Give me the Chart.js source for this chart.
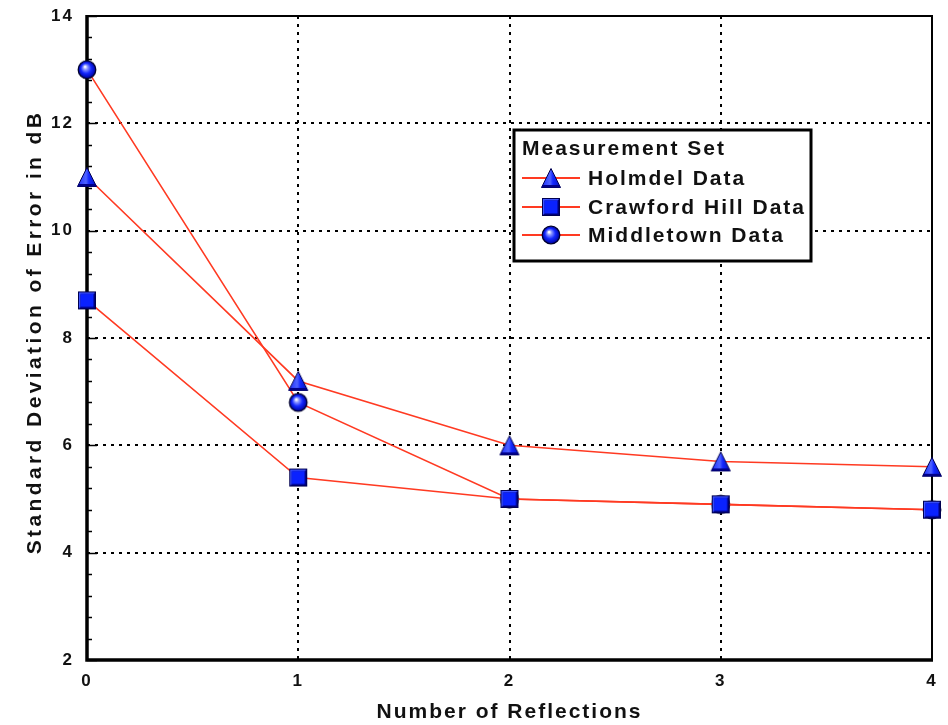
<!DOCTYPE html>
<html>
<head>
<meta charset="utf-8">
<script src="https://cdn.jsdelivr.net/npm/chart.js@4.4.1/dist/chart.umd.min.js"></script>
<style>
  html, body { margin: 0; padding: 0; background: #fff; }
</style>
</head>
<body>
<canvas id="chart" width="948" height="725"></canvas>
<script>
// data
const reflections = [0, 1, 2, 3, 4];
const holmdel = [11.0, 7.2, 6.0, 5.7, 5.6];
const crawfordHill = [8.7, 5.4, 5.0, 4.9, 4.8];
const middletown = [13.0, 6.8, 5.0, 4.9, 4.8];
const seriesNames = ["Holmdel Data", "Crawford Hill Data", "Middletown Data"];
const legendTitle = "Measurement Set";
const xTitle = "Number of Reflections";
const yTitle = "Standard Deviation of Error in dB";

const FONT = "'Liberation Sans', Arial, sans-serif";
const RED = "#ff3a22";

// little shaded blue markers (canvas images used as pointStyle)
function makeMarker(shape) {
  const s = 22;
  const c = document.createElement("canvas");
  c.width = s; c.height = s;
  const g = c.getContext("2d");
  const cx = s / 2, cy = s / 2;
  if (shape === "circle") {
    const grad = g.createRadialGradient(cx - 2, cy - 3, 0.5, cx, cy, 9);
    grad.addColorStop(0, "#ffffff");
    grad.addColorStop(0.22, "#8a95ff");
    grad.addColorStop(0.55, "#1428ff");
    grad.addColorStop(0.9, "#0008b0");
    grad.addColorStop(1, "#00005a");
    g.beginPath();
    g.arc(cx, cy, 8.8, 0, Math.PI * 2);
    g.fillStyle = grad;
    g.fill();
    g.lineWidth = 1.3;
    g.strokeStyle = "#000030";
    g.stroke();
  } else if (shape === "rect") {
    const x0 = 2, y0 = 2, x1 = 20, y1 = 20, b = 2.5;
    g.fillStyle = "#00007a";
    g.fillRect(x0, y0, x1 - x0, y1 - y0);
    // light top-left bevel
    g.beginPath();
    g.moveTo(x0, y1); g.lineTo(x0, y0); g.lineTo(x1, y0);
    g.lineTo(x1 - b, y0 + b); g.lineTo(x0 + b, y0 + b); g.lineTo(x0 + b, y1 - b);
    g.closePath();
    g.fillStyle = "#3f55ff";
    g.fill();
    g.fillStyle = "#0a22ff";
    g.fillRect(x0 + b, y0 + b, x1 - x0 - 2 * b, y1 - y0 - 2 * b);
    g.lineWidth = 1;
    g.strokeStyle = "#000050";
    g.strokeRect(x0 + 0.5, y0 + 0.5, x1 - x0 - 1, y1 - y0 - 1);
  } else {
    const top = 1.5, bot = 20.5, half = 9.5;
    const grad = g.createLinearGradient(cx - half, 0, cx + half, 0);
    grad.addColorStop(0, "#1a2cff");
    grad.addColorStop(0.45, "#4f63ff");
    grad.addColorStop(0.6, "#1428ff");
    grad.addColorStop(1, "#0010c0");
    g.beginPath();
    g.moveTo(cx, top); g.lineTo(cx + half, bot); g.lineTo(cx - half, bot);
    g.closePath();
    g.fillStyle = grad;
    g.fill();
    g.lineWidth = 1;
    g.strokeStyle = "#000050";
    g.stroke();
    // darker base strip
    g.beginPath();
    g.moveTo(cx - half + 1.2, bot - 2.5); g.lineTo(cx + half - 1.2, bot - 2.5);
    g.lineTo(cx + half, bot); g.lineTo(cx - half, bot);
    g.closePath();
    g.fillStyle = "#00008a";
    g.fill();
  }
  return c;
}

const markers = [makeMarker("triangle"), makeMarker("rect"), makeMarker("circle")];
const seriesValues = [holmdel, crawfordHill, middletown];

function toPoints(vals) {
  return reflections.map((r, i) => ({ x: r, y: vals[i] }));
}

// frame, inside ticks, y title and legend box
const framePlugin = {
  id: "frame",
  beforeDraw(chart) {
    chart.ctx.letterSpacing = "2px";
  },
  beforeDatasetsDraw(chart) {
    const { ctx, chartArea: a, scales } = chart;
    const y = scales.y;
    ctx.save();
    ctx.strokeStyle = "#000";
    // minor / major ticks on the left axis, pointing inward
    ctx.lineWidth = 1.5;
    for (let i = 0; i <= 30; i++) {
      const v = 2 + i * 0.4;
      const py = Math.round(y.getPixelForValue(v)) + 0.5;
      const len = (i % 5 === 0) ? 10 : 5;
      ctx.beginPath();
      ctx.moveTo(a.left, py);
      ctx.lineTo(a.left + len, py);
      ctx.stroke();
    }
    // top and right border
    ctx.lineWidth = 2;
    ctx.beginPath();
    ctx.moveTo(a.left, a.top);
    ctx.lineTo(a.right, a.top);
    ctx.lineTo(a.right, a.bottom);
    ctx.stroke();
    // left and bottom axis
    ctx.lineWidth = 3.5;
    ctx.beginPath();
    ctx.moveTo(a.left, a.top - 1);
    ctx.lineTo(a.left, a.bottom);
    ctx.lineTo(a.right + 1, a.bottom);
    ctx.stroke();
    ctx.restore();
  },
  afterDraw(chart) {
    const ctx = chart.ctx;
    ctx.save();
    // y axis title (wider spacing than the x title)
    ctx.save();
    ctx.translate(35, 334);
    ctx.rotate(-Math.PI / 2);
    ctx.letterSpacing = "3.4px";
    ctx.font = "bold 21px " + FONT;
    ctx.fillStyle = "#111";
    ctx.textAlign = "center";
    ctx.textBaseline = "middle";
    ctx.fillText(yTitle, 2, 0);
    ctx.restore();

    const bx = 514, by = 130, bw = 297, bh = 131;
    ctx.fillStyle = "#fff";
    ctx.fillRect(bx, by, bw, bh);
    ctx.lineWidth = 3;
    ctx.strokeStyle = "#000";
    ctx.strokeRect(bx, by, bw, bh);
    ctx.fillStyle = "#111";
    ctx.font = "bold 21px " + FONT;
    ctx.textBaseline = "middle";
    ctx.textAlign = "left";
    ctx.fillText(legendTitle, 522, 149);
    const rowY = [178, 207, 235];
    seriesNames.forEach((name, i) => {
      ctx.strokeStyle = RED;
      ctx.lineWidth = 2;
      ctx.beginPath();
      ctx.moveTo(522, rowY[i]);
      ctx.lineTo(580, rowY[i]);
      ctx.stroke();
      ctx.drawImage(markers[i], 551 - 11, rowY[i] - 11);
      ctx.fillStyle = "#111";
      ctx.fillText(name, 588, rowY[i] + 1);
    });
    ctx.restore();
  }
};

const ctx = document.getElementById("chart").getContext("2d");

new Chart(ctx, {
  type: "scatter",
  data: {
    datasets: seriesNames.map((name, i) => ({
      label: name,
      data: toPoints(seriesValues[i]),
      showLine: true,
      borderColor: RED,
      borderWidth: 1.6,
      pointStyle: markers[i],
      pointRadius: 9,
      clip: false
    }))
  },
  options: {
    responsive: false,
    animation: false,
    layout: { padding: { top: 16, right: 16, left: 0, bottom: 0 } },
    plugins: {
      legend: { display: false },
      tooltip: { enabled: false }
    },
    scales: {
      x: {
        type: "linear",
        min: 0,
        max: 4,
        afterFit(scale) {
          scale.height = 65;
          scale.paddingLeft = 0;
          scale.paddingRight = 0;
        },
        ticks: {
          stepSize: 1,
          color: "#111",
          padding: 11,
          font: { family: FONT, size: 17, weight: "bold" }
        },
        grid: { color: "#000", lineWidth: 2, drawTicks: false },
        border: { display: false, dash: [3, 5] },
        title: {
          display: true,
          text: xTitle,
          color: "#111",
          padding: 0,
          font: { family: FONT, size: 21, weight: "bold" }
        }
      },
      y: {
        min: 2,
        max: 14,
        afterFit(scale) {
          scale.width = 87;
          scale.paddingTop = 0;
          scale.paddingBottom = 0;
        },
        ticks: {
          stepSize: 2,
          color: "#111",
          padding: 13,
          font: { family: FONT, size: 17, weight: "bold" }
        },
        grid: { color: "#000", lineWidth: 2, drawTicks: false },
        border: { display: false, dash: [3, 5] },
        title: { display: false, text: yTitle }
      }
    }
  },
  plugins: [framePlugin]
});
</script>
</body>
</html>
